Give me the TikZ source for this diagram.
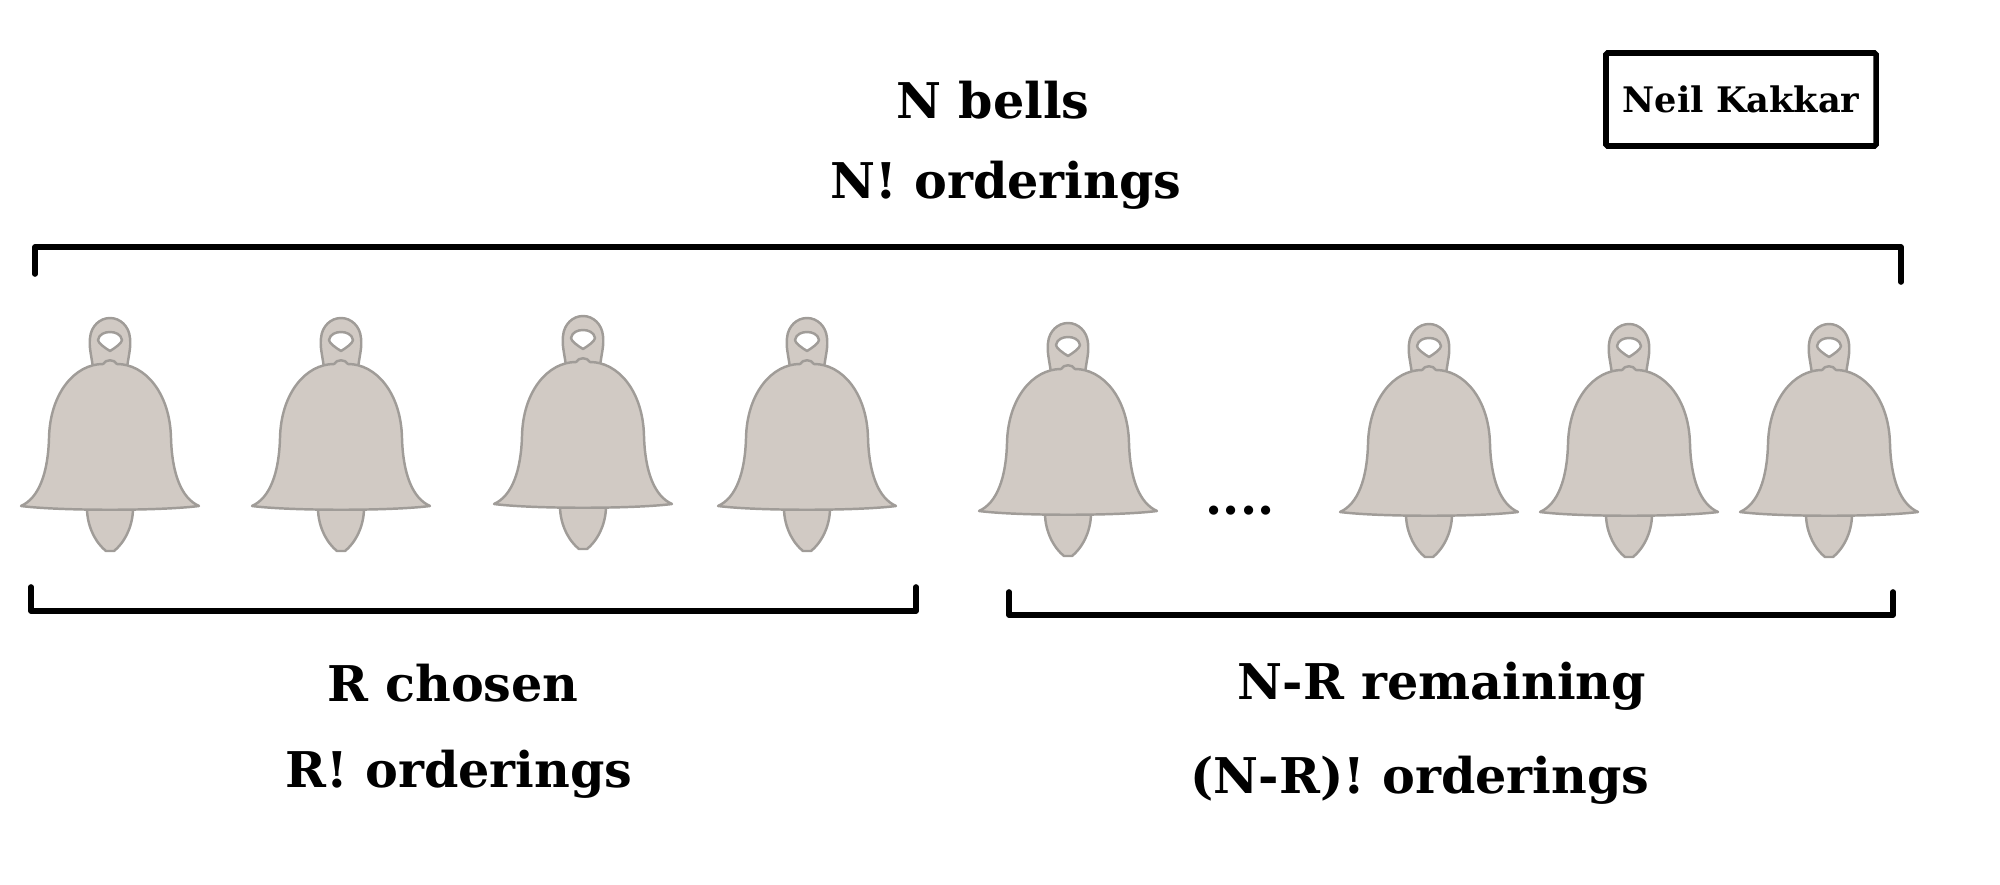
\documentclass[tikz,border=0pt]{standalone}
\usepackage{fontspec}
\setmainfont{DejaVu Serif}

\tikzset{
  bell/.pic={
    % clapper, handle with its hole, then the body on top
    \filldraw[bellline] (-23,0) .. controls (-23,20) and (-13,36) .. (-4,43) -- (4,43) .. controls (13,36) and (23,20) .. (23,0) -- cycle;
    \filldraw[bellline,even odd rule] (-17,-140) .. controls (-19,-155) and (-21,-160) .. (-20,-170) .. controls (-19,-182) and (-10,-190) .. (0,-190) .. controls (10,-190) and (19,-182) .. (20,-170) .. controls (21,-160) and (19,-155) .. (17,-140) -- cycle
      (0,-157) .. controls (-5,-160) and (-12,-165) .. (-12,-168) .. controls (-11,-174) and (-5,-176) .. (0,-176) .. controls (5,-176) and (11,-174) .. (12,-168) .. controls (12,-165) and (5,-160) .. (0,-157) -- cycle;
    \filldraw[bellline] (-89,-2) .. controls (-71,-10) and (-62,-35) .. (-61,-70) .. controls (-60,-115) and (-35,-144) .. (-7,-144) .. controls (-4,-149) and (4,-149) .. (7,-144) .. controls (35,-144) and (60,-115) .. (61,-70) .. controls (62,-35) and (71,-10) .. (89,-2) .. controls (50,3) and (-50,3) .. (-89,-2) -- cycle;
  },
  bellline/.style={fill=bellfill,draw=belledge,line width=0.7pt,line join=round},
  bracket/.style={black,line width=1.6pt,line cap=round,line join=round},
  label/.style={font=\fontsize{14}{18}\selectfont\bfseries,anchor=base,inner sep=0pt},
  signbox/.style={draw=black,line width=1.6pt,rounded corners=0.5pt,minimum width=2.7cm,minimum height=0.93cm,
    font=\fontsize{10}{13}\selectfont\bfseries,inner sep=0pt},
}
\definecolor{bellfill}{HTML}{D1CAC4}
\definecolor{belledge}{HTML}{A09C98}

\begin{document}
\begin{tikzpicture}[x=0.01cm,y=-0.01cm]
\useasboundingbox (0,0) rectangle (2000,885);

% top
\node[label] (nbells) at (993,119) {N bells};
\node[label] (nfact) at (1006,199) {N! orderings};
\node[signbox] (author) at (1741,99.5) {Neil Kakkar};
\draw[bracket] (35,274) -- (35,247) -- (1901,247) -- (1901,282);

% bells
\pic (bellA) at (110,508) {bell};
\pic (bellB) at (341,508) {bell};
\pic (bellC) at (583,506) {bell};
\pic (bellD) at (807,508) {bell};
\pic (bellE) at (1068,513) {bell};
\node[label] (gap) at (1240,514) {....};
\pic (bellF) at (1429,514) {bell};
\pic (bellG) at (1629,514) {bell};
\pic (bellH) at (1829,514) {bell};

% bottom
\draw[bracket] (31,587) -- (31,611) -- (916,611) -- (916,587);
\draw[bracket] (1009,592) -- (1009,615) -- (1893,615) -- (1893,592);
\node[label] (rchosen) at (453,701) {R chosen};
\node[label] (rfact) at (459,787) {R! orderings};
\node[label] (nrleft) at (1442,699) {N-R remaining};
\node[label] (nrfact) at (1420,793) {(N-R)! orderings};

\end{tikzpicture}
\end{document}
